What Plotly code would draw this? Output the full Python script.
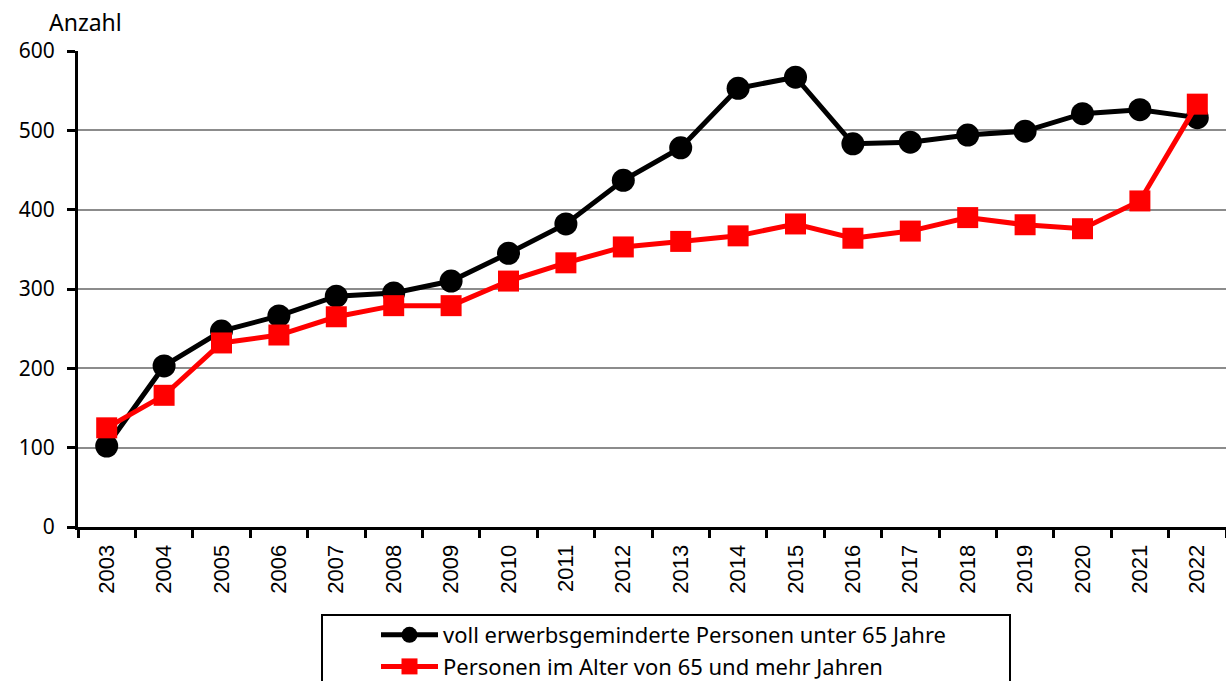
import plotly.graph_objects as go

years = [str(y) for y in range(2003, 2023)]
unter65 = [102, 203, 247, 266, 291, 295, 310, 345, 382, 437, 478, 553, 567, 483, 485, 494, 499, 521, 526, 516]
ab65 = [125, 166, 232, 242, 265, 279, 279, 310, 333, 353, 360, 367, 382, 364, 373, 390, 381, 376, 411, 533]

name1 = "voll erwerbsgeminderte Personen unter 65 Jahre"
name2 = "Personen im Alter von 65 und mehr Jahren"

W, H = 1226, 681
L, R, T, B = 78, 0, 51, 154
pw, ph = W - L - R, H - T - B

def px(x):
    return (x - L) / pw

def py(y):
    return (H - B - y) / ph

fig = go.Figure()
fig.add_trace(go.Scatter(
    x=years, y=unter65, name=name1, mode="lines+markers",
    line=dict(color="black", width=5),
    marker=dict(symbol="circle", size=23, color="black"),
))
fig.add_trace(go.Scatter(
    x=years, y=ab65, name=name2, mode="lines+markers",
    line=dict(color="#ff0000", width=5),
    marker=dict(symbol="square", size=21, color="#ff0000"),
))

fig.update_layout(
    width=W, height=H,
    margin=dict(l=L, r=R, t=T, b=B, autoexpand=False),
    paper_bgcolor="white", plot_bgcolor="white",
    font=dict(family="Noto Sans", size=22, color="black"),
    showlegend=True,
    legend=dict(
        x=px(376), y=py(614), xanchor="left", yanchor="top",
        bgcolor="rgba(0,0,0,0)", borderwidth=0,
        font=dict(family="Noto Sans", size=22, color="black"),
        itemwidth=57, tracegroupgap=0,
    ),
    xaxis=dict(
        type="category", tickson="boundaries",
        ticks="outside", ticklen=8, tickwidth=3, tickcolor="black",
        showline=True, linecolor="black", linewidth=3,
        showgrid=False, tickangle=-90, ticklabelstandoff=6,
        tickfont=dict(family="Liberation Sans", size=22, color="black"),
        range=[-0.5, 19.5],
    ),
    yaxis=dict(
        range=[0, 600], dtick=100,
        ticks="outside", ticklen=8, tickwidth=3, tickcolor="black",
        showline=True, linecolor="black", linewidth=3,
        showgrid=True, gridcolor="#8c8c8c", gridwidth=2,
        zeroline=False, ticklabelstandoff=8,
        tickfont=dict(family="Noto Sans", size=21, color="black"),
    ),
    shapes=[dict(
        type="rect", xref="paper", yref="paper",
        x0=px(322), x1=px(1010), y0=py(615), y1=py(700),
        line=dict(color="black", width=2), fillcolor="rgba(0,0,0,0)",
        layer="below",
    )],
    annotations=[dict(
        text="Anzahl", xref="paper", yref="paper",
        x=px(47), y=py(4), xanchor="left", yanchor="top",
        showarrow=False, font=dict(family="Noto Sans", size=23, color="black"),
    )],
)

fig.write_html(
    "out.html",
    config={"displayModeBar": False},
    post_script="document.body.style.margin='0';document.body.style.overflow='hidden';",
)
